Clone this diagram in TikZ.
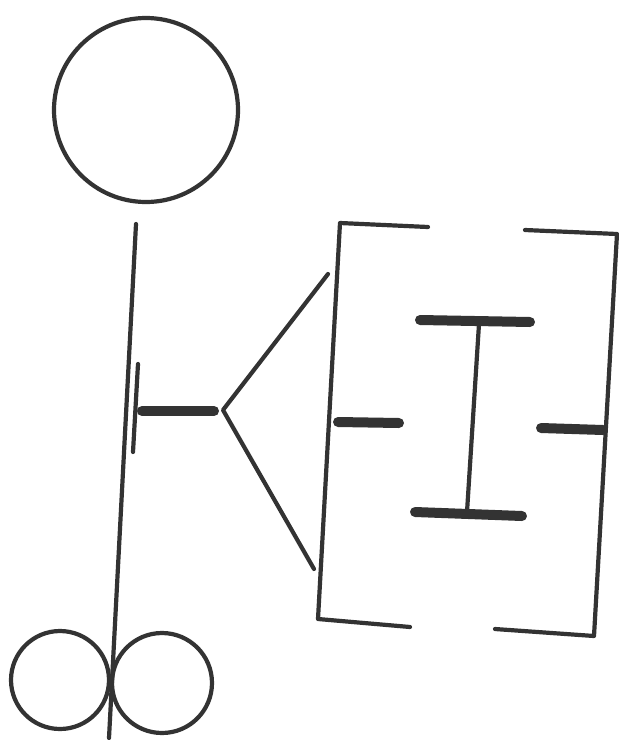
\documentclass[tikz,border=0pt]{standalone}
\usetikzlibrary{positioning}
\tikzset{
  stroke/.style={line width=4.2pt, color=black!80, line cap=round, line join=round},
  bar/.style={line width=10pt, color=black!80, line cap=round}
}
\begin{document}
\begin{tikzpicture}[x=1pt, y=-1pt]
	\useasboundingbox (0,0) rectangle (619,740);
	% 1. 头部与支柱
	\draw[stroke] (146,110) circle (92);
	\draw[stroke] (136,224) -- (109,738);
	\draw[stroke] (60,680) circle (49);
	\draw[stroke] (162,683) circle (50);
	
	% 2. 短竖杆与横杆
	\draw[stroke] (138,364) -- (133,452);
	\draw[bar] (142,411) -- (214,411);
	
	% 3. 分叉
	\coordinate (apex) at (223,410);
	\draw[stroke] (328,274) -- (apex) -- (314,569);
	
	% 4. 左右括框
	\draw[stroke] (428,227) -- (340,223) -- (318,619) -- (410,627);
	\draw[stroke] (525,230) -- (617,234) -- (594,636) -- (495,629);
	
	% 5. 工字与短横
	\draw[bar] (420,320) -- (530,322);
	\draw[stroke] (479,324) -- (467,512);
	\draw[bar] (415,512) -- (522,516);
	\draw[bar] (338,422) -- (399,423);
	\draw[bar] (541,428) -- (603,430);
\end{tikzpicture}
\end{document}
